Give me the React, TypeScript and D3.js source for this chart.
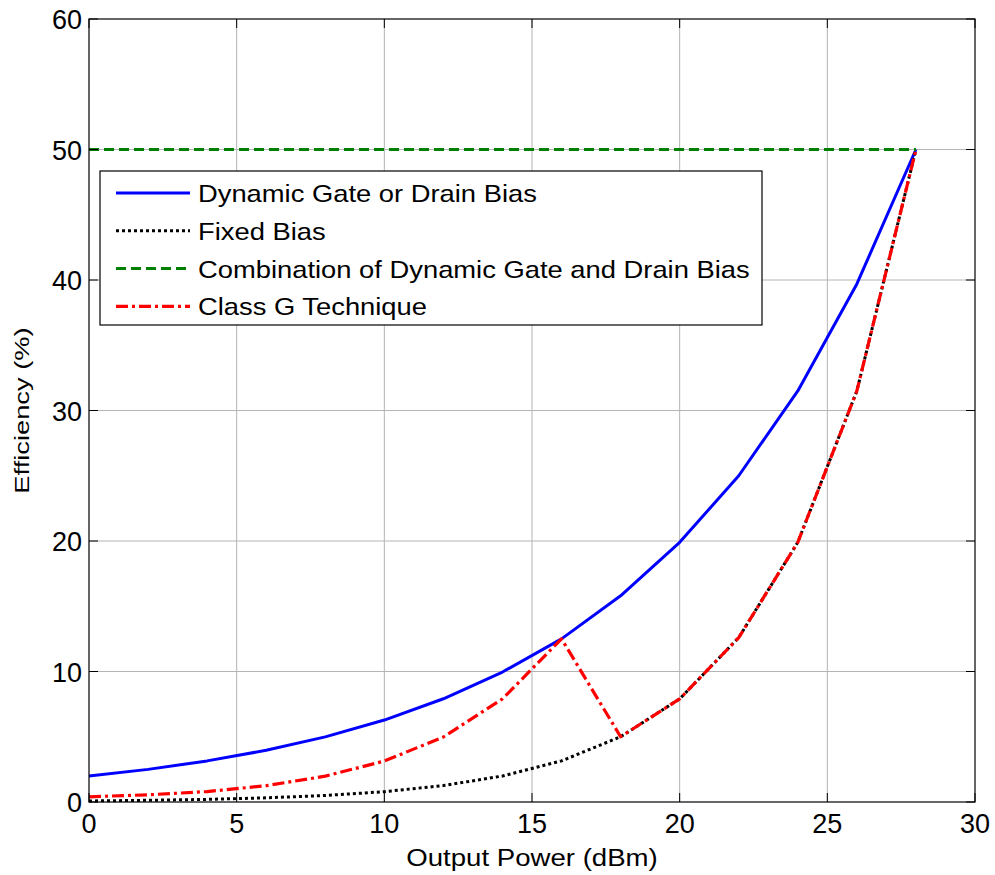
import React, { useEffect, useRef } from 'react';
import * as d3 from 'd3';

// Output power (dBm)
const power = [0, 2, 4, 6, 8, 10, 12, 14, 16, 18, 20, 22, 24, 26, 28];

// Efficiency (%)
const dynamicBias = [2.0, 2.5, 3.15, 3.96, 4.99, 6.28, 7.91, 9.96, 12.5, 15.8, 19.9, 25.0, 31.5, 39.7, 50];
const fixedBias = [0.08, 0.13, 0.2, 0.32, 0.5, 0.79, 1.26, 1.99, 3.15, 5.0, 7.9, 12.6, 19.9, 31.5, 50];
const combination = [50, 50, 50, 50, 50, 50, 50, 50, 50, 50, 50, 50, 50, 50, 50];
const classG = [0.4, 0.55, 0.8, 1.25, 1.98, 3.14, 4.98, 7.9, 12.5, 5.0, 7.9, 12.6, 19.9, 31.5, 50];

const xTicks = [0, 5, 10, 15, 20, 25, 30];
const yTicks = [0, 10, 20, 30, 40, 50, 60];

const series = [
    { label: 'Dynamic Gate or Drain Bias', values: dynamicBias, color: '#0000ff', dash: null, width: 3 },
    { label: 'Fixed Bias', values: fixedBias, color: '#000000', dash: '3,3', width: 3 },
    { label: 'Combination of Dynamic Gate and Drain Bias', values: combination, color: '#008000', dash: '10,5', width: 3 },
    { label: 'Class G Technique', values: classG, color: '#ff0000', dash: '12,4,3,4', width: 3.2 },
];

export default function App() {
    const ref = useRef<SVGSVGElement>(null);

    useEffect(() => {
        const svg = d3.select(ref.current);
        svg.selectAll('*').remove();

        const left = 89, right = 975, top = 19, bottom = 802;
        const x = d3.scaleLinear().domain([0, 30]).range([left, right]);
        const y = d3.scaleLinear().domain([0, 60]).range([bottom, top]);
        const font = 'Liberation Sans, Arial, sans-serif';

        svg.append('rect')
            .attr('x', left).attr('y', top)
            .attr('width', right - left).attr('height', bottom - top)
            .attr('fill', '#fff');

        // Grid
        const grid = svg.append('g').attr('stroke', '#b4b4b4').attr('stroke-width', 1);
        xTicks.slice(1, -1).forEach(t => {
            grid.append('line').attr('x1', x(t)).attr('x2', x(t)).attr('y1', top).attr('y2', bottom);
        });
        yTicks.slice(1, -1).forEach(t => {
            grid.append('line').attr('x1', left).attr('x2', right).attr('y1', y(t)).attr('y2', y(t));
        });

        // Lines
        const line = d3.line<number>()
            .x((_, i) => x(power[i]))
            .y(d => y(d));

        series.forEach(s => {
            svg.append('path')
                .datum(s.values)
                .attr('d', line)
                .attr('fill', 'none')
                .attr('stroke', s.color)
                .attr('stroke-width', s.width)
                .attr('stroke-dasharray', s.dash)
                .attr('stroke-linejoin', 'round');
        });

        // Frame + inward ticks
        svg.append('rect')
            .attr('x', left).attr('y', top)
            .attr('width', right - left).attr('height', bottom - top)
            .attr('fill', 'none').attr('stroke', '#000').attr('stroke-width', 1.2);

        const ticks = svg.append('g').attr('stroke', '#000').attr('stroke-width', 1);
        xTicks.forEach(t => {
            ticks.append('line').attr('x1', x(t)).attr('x2', x(t)).attr('y1', bottom).attr('y2', bottom - 9);
            ticks.append('line').attr('x1', x(t)).attr('x2', x(t)).attr('y1', top).attr('y2', top + 9);
        });
        yTicks.forEach(t => {
            ticks.append('line').attr('x1', left).attr('x2', left + 9).attr('y1', y(t)).attr('y2', y(t));
            ticks.append('line').attr('x1', right).attr('x2', right - 9).attr('y1', y(t)).attr('y2', y(t));
        });

        // Tick labels
        svg.append('g').selectAll('text')
            .data(xTicks)
            .enter().append('text')
            .attr('x', d => x(d))
            .attr('y', 833)
            .attr('text-anchor', 'middle')
            .style('font-family', font)
            .style('font-size', '27px')
            .text(d => d);

        svg.append('g').selectAll('text')
            .data(yTicks)
            .enter().append('text')
            .attr('x', 82)
            .attr('y', d => y(d) + 10)
            .attr('text-anchor', 'end')
            .style('font-family', font)
            .style('font-size', '27px')
            .text(d => d);

        // Axis labels (stretched along reading direction like the original)
        svg.append('text')
            .attr('transform', `translate(${(left + right) / 2}, 866) scale(1.15, 1)`)
            .attr('text-anchor', 'middle')
            .style('font-family', font)
            .style('font-size', '24px')
            .text('Output Power (dBm)');

        svg.append('text')
            .attr('transform', `translate(29, ${(top + bottom) / 2}) rotate(-90) scale(1.3, 1)`)
            .attr('text-anchor', 'middle')
            .style('font-family', font)
            .style('font-size', '21px')
            .text('Efficiency (%)');

        // Legend
        const legend = svg.append('g');
        legend.append('rect')
            .attr('x', 100).attr('y', 171)
            .attr('width', 662).attr('height', 154)
            .attr('fill', '#fff').attr('stroke', '#000').attr('stroke-width', 1.2);

        series.forEach((s, i) => {
            const ly = 193 + i * 37.8;
            legend.append('line')
                .attr('x1', 116).attr('x2', 190)
                .attr('y1', ly).attr('y2', ly)
                .attr('stroke', s.color)
                .attr('stroke-width', s.width)
                .attr('stroke-dasharray', s.dash);
            legend.append('text')
                .attr('transform', `translate(198, ${ly + 9}) scale(1.14, 1)`)
                .style('font-family', font)
                .style('font-size', '24px')
                .text(s.label);
        });
    }, []);

    return (
        <svg ref={ref} width={995} height={875} style={{ position: 'absolute', left: 0, top: 0, background: '#fff' }} />
    );
}
